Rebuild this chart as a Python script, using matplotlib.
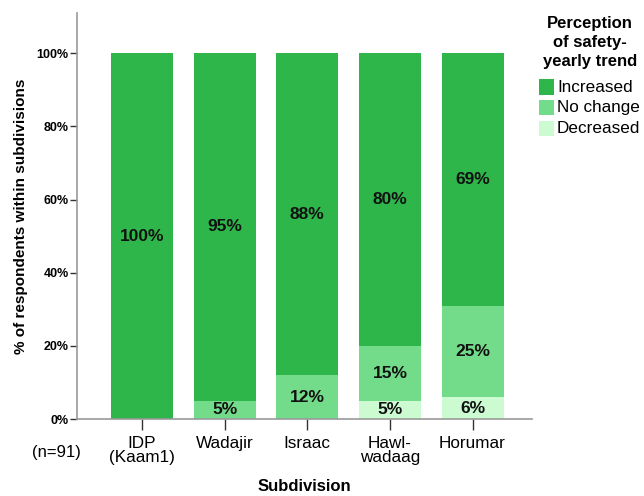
import numpy as np
import matplotlib.pyplot as plt
from matplotlib.patches import Rectangle

plt.rcParams['font.family'] = ['Liberation Sans', 'DejaVu Sans']

# Survey results: share of respondents per subdivision
subdivisions = ['IDP\n(Kaam1)', 'Wadajir', 'Israac', 'Hawl-\nwadaag', 'Horumar']
decreased = [0, 0, 0, 5, 6]
no_change = [0, 5, 12, 15, 25]
increased = [100, 95, 88, 80, 69]

series = [('Decreased', decreased, '#ccfbd2'),
          ('No change', no_change, '#73dc8a'),
          ('Increased', increased, '#2eb64b')]

W, H = 644, 496
fig = plt.figure(figsize=(W / 100, H / 100), dpi=100)
ax = fig.add_axes([0.1196, 0.1552, 0.7065, 0.8186])

x = np.arange(len(subdivisions))
bottom = np.zeros(len(subdivisions))
for name, vals, col in series:
    vals = np.array(vals, dtype=float)
    ax.bar(x, vals, width=0.75, bottom=bottom, color=col, linewidth=0)
    for xi, b, v in zip(x, bottom, vals):
        if v > 0:
            ax.text(xi, b + v / 2, f'{int(v)}%', ha='center', va='center',
                    fontsize=12.5, fontweight='bold', color='#111111')
    bottom += vals

ax.set_xlim(-0.787, 4.72)
ax.set_ylim(0, 111)
ax.set_xticks(x)
ax.set_xticklabels(subdivisions, fontsize=12.3, linespacing=0.95)
ax.set_yticks([0, 20, 40, 60, 80, 100])
ax.set_yticklabels([f'{t}%' for t in range(0, 101, 20)], fontsize=9,
                   fontweight='bold')
ax.tick_params(axis='y', length=5, width=1, color='#333333', pad=1)
ax.tick_params(axis='x', length=8, width=1, color='#333333', pad=4)

for s in ['top', 'right']:
    ax.spines[s].set_visible(False)
for s in ['left', 'bottom']:
    ax.spines[s].set_color('#999999')
    ax.spines[s].set_linewidth(1.2)

ax.set_xlabel('Subdivision', fontsize=12, fontweight='bold', labelpad=10)
ax.set_ylabel('% of respondents within subdivisions', fontsize=11,
              fontweight='bold', labelpad=6)
fig.text(56 / W, 1 - 453 / H, '(n=91)', fontsize=12, ha='center',
         va='center')

# legend, drawn by hand in figure pixels
fig.text(590 / W, 1 - 16 / H, 'Perception\nof safety-\nyearly trend',
         fontsize=12, fontweight='bold', ha='center', va='top',
         linespacing=1.32)
for i, (name, _, col) in enumerate(reversed(series)):
    yc = 87 + 20.7 * i
    fig.patches.append(Rectangle((539 / W, 1 - (yc + 7.5) / H), 15 / W,
                                 15 / H, transform=fig.transFigure,
                                 facecolor=col, edgecolor='none'))
    fig.text(557 / W, 1 - yc / H, name, fontsize=12.3, ha='left',
             va='center')

fig.savefig('out.png', dpi=100)
